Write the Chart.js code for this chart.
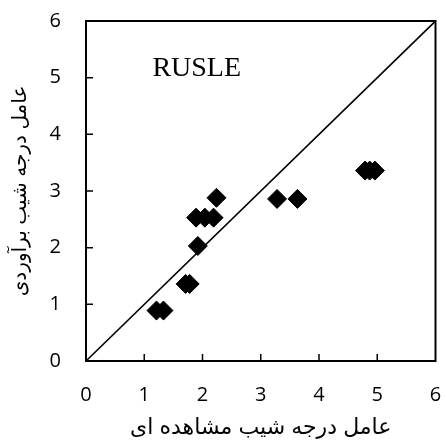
<!DOCTYPE html>
<html><head><meta charset="utf-8">
<script src="https://cdn.jsdelivr.net/npm/chart.js@4.4.1/dist/chart.umd.min.js"></script>
<style>html,body{margin:0;padding:0;background:#fff}</style>
</head><body>
<canvas id="c" width="446" height="441" style="width:446px;height:441px;display:block"></canvas>
<script>
// observed slope-steepness factor (x) and RUSLE-estimated factor (y)
const observed  = [1.21, 1.33, 1.71, 1.78, 1.92, 1.89, 2.04, 2.19, 2.24, 3.28, 3.63, 4.79, 4.87, 4.96];
const estimated = [0.89, 0.89, 1.36, 1.36, 2.03, 2.53, 2.53, 2.53, 2.88, 2.86, 2.86, 3.36, 3.36, 3.36];
const oneToOneX = [0, 6];
const oneToOneY = [0, 6];
const axisMin = 0, axisMax = 6, axisStep = 1;
const xTitle = 'عامل درجه شیب مشاهده ای';
const yTitle = 'عامل درجه شیب برآوردی';
const panelLabel = 'RUSLE';
const panelLabelPos = [1.14, 5.03];

const scatterData = observed.map((x, i) => ({x, y: estimated[i]}));
const lineData = oneToOneX.map((x, i) => ({x, y: oneToOneY[i]}));

const framePlugin = {
  id: 'frame',
  afterDatasetsDraw(chart) {
    const {ctx, chartArea: a, scales: {x, y}} = chart;
    ctx.save();
    ctx.strokeStyle = '#000';
    ctx.lineWidth = 2;
    ctx.strokeRect(a.left, a.top, a.right - a.left, a.bottom - a.top);
    ctx.lineWidth = 1.5;
    ctx.beginPath();
    for (let v = axisMin + axisStep; v < axisMax; v += axisStep) {
      const px = x.getPixelForValue(v);
      ctx.moveTo(px, a.bottom); ctx.lineTo(px, a.bottom - 7);
      const py = y.getPixelForValue(v);
      ctx.moveTo(a.left, py); ctx.lineTo(a.left + 7, py);
    }
    ctx.stroke();
    ctx.fillStyle = '#000';
    ctx.font = '28px "Liberation Serif", "Times New Roman", serif';
    ctx.textAlign = 'left';
    ctx.textBaseline = 'alphabetic';
    ctx.fillText(panelLabel, x.getPixelForValue(panelLabelPos[0]), y.getPixelForValue(panelLabelPos[1]));
    ctx.restore();
  }
};

new Chart(document.getElementById('c'), {
  data: {
    datasets: [
      {
        type: 'line',
        data: lineData,
        borderColor: '#000',
        borderWidth: 1.6,
        pointRadius: 0,
        fill: false,
        order: 2
      },
      {
        type: 'scatter',
        data: scatterData,
        pointStyle: 'rectRot',
        pointRadius: 9.5,
        pointHoverRadius: 9.5,
        backgroundColor: '#000',
        borderColor: '#000',
        borderWidth: 1,
        order: 1
      }
    ]
  },
  options: {
    responsive: false,
    animation: false,
    devicePixelRatio: 1,
    layout: {padding: {top: 21, right: 8, left: 0, bottom: 0}},
    plugins: {legend: {display: false}, tooltip: {enabled: false}},
    scales: {
      x: {
        type: 'linear',
        min: axisMin, max: axisMax,
        afterFit(s) { s.height = 80; s.paddingLeft = 0; s.paddingRight = 0; },
        ticks: {stepSize: axisStep, color: '#000', padding: 22,
                font: {family: '"Open Sans", sans-serif', size: 20}},
        grid: {display: false, drawTicks: false},
        border: {display: false},
        title: {display: true, text: xTitle, color: '#000',
                font: {family: 'Arial, "DejaVu Sans", sans-serif', size: 22},
                padding: {top: 0, bottom: 0}}
      },
      y: {
        type: 'linear',
        min: axisMin, max: axisMax,
        afterFit(s) { s.width = 86; s.paddingTop = 0; s.paddingBottom = 0; },
        ticks: {stepSize: axisStep, color: '#000', padding: 25,
                font: {family: '"Open Sans", sans-serif', size: 20}},
        grid: {display: false, drawTicks: false},
        border: {display: false},
        title: {display: true, text: yTitle, color: '#000',
                font: {family: 'Arial, "DejaVu Sans", sans-serif', size: 20},
                padding: {top: 8, bottom: 0}}
      }
    }
  },
  plugins: [framePlugin]
});
</script>
</body></html>
